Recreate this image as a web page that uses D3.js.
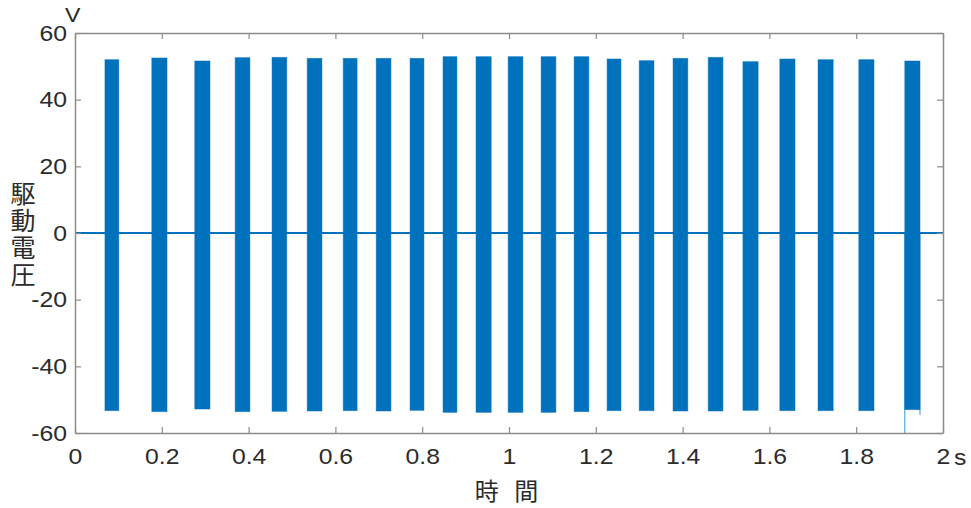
<!DOCTYPE html>
<html>
<head>
<meta charset="utf-8">
<script src="https://cdn.jsdelivr.net/npm/d3@7"></script>
<style>
  html, body { margin: 0; padding: 0; background: #fff; }
  svg { display: block; }
  .wide-c { transform-box: fill-box; transform-origin: center center; transform: scaleX(1.1); }
  .wide-r { transform-box: fill-box; transform-origin: right center; transform: scaleX(1.1); }
  .wide-l { transform-box: fill-box; transform-origin: left center; transform: scaleX(1.1); }
</style>
</head>
<body>
<svg id="chart" width="971" height="508"></svg>
<script>
// Drive-voltage bursts: start/end time (s) and envelope peaks (V) per burst
const burstStart = [0.069, 0.177, 0.276, 0.369, 0.454, 0.535, 0.618, 0.694, 0.772, 0.848, 0.924, 0.998,
                    1.074, 1.150, 1.226, 1.300, 1.378, 1.459, 1.539, 1.624, 1.712, 1.806, 1.912];
const burstEnd   = [0.101, 0.212, 0.311, 0.403, 0.488, 0.569, 0.650, 0.728, 0.804, 0.880, 0.959, 1.032,
                    1.108, 1.184, 1.258, 1.334, 1.412, 1.493, 1.574, 1.659, 1.747, 1.841, 1.947];
const burstMax   = [52.0, 52.5, 51.6, 52.6, 52.7, 52.4, 52.4, 52.4, 52.4, 52.9, 52.9, 52.9,
                    52.9, 52.9, 52.2, 51.7, 52.4, 52.7, 51.4, 52.2, 52.0, 52.0, 51.6];
const burstMin   = [-53.3, -53.6, -52.8, -53.6, -53.5, -53.4, -53.3, -53.4, -53.2, -53.8, -53.8, -53.8,
                    -53.8, -53.6, -53.3, -53.3, -53.4, -53.4, -53.2, -53.3, -53.3, -53.3, -53.0];

// Transient spikes at the edges of the final burst
const spikeTime  = [1.912, 1.947];
const spikeValue = [-60, -54.6];

// Baseline between bursts
const baseTime  = [0, 2];
const baseValue = [0, 0];

// Axis ticks
const xTicks = [0, 0.2, 0.4, 0.6, 0.8, 1, 1.2, 1.4, 1.6, 1.8, 2];
const xTickLabels = ["0", "0.2", "0.4", "0.6", "0.8", "1", "1.2", "1.4", "1.6", "1.8", "2"];
const yTicks = [-60, -40, -20, 0, 20, 40, 60];
const yTickLabels = ["-60", "-40", "-20", "0", "20", "40", "60"];

const xUnit = "s";
const yUnit = "V";
const xTitle = "時 間";
const yTitle = "駆動電圧";

const svg = d3.select("#chart");
const plotLeft = 75, plotRight = 943, plotTop = 33, plotBottom = 433;
const blue = "#0072BD";
const axisGrey = "#8c8c8c";
const textColor = "#2b2b2b";
const numFont = "'Liberation Sans', Arial, sans-serif";
const cjkFont = "'Noto Sans CJK JP', 'Noto Sans CJK SC', sans-serif";

const x = d3.scaleLinear().domain([0, 2]).range([plotLeft, plotRight]);
const y = d3.scaleLinear().domain([-60, 60]).range([plotBottom, plotTop]);

// Baseline
const line = d3.line().x(d => x(d[0])).y(d => y(d[1]));
svg.append("path")
  .datum(baseTime.map((t, i) => [t, baseValue[i]]))
  .attr("d", line)
  .attr("fill", "none")
  .attr("stroke", blue)
  .attr("stroke-width", 2.2);

// Bursts (dense oscillation rendered as its envelope)
const bursts = burstStart.map((s, i) => ({ s, e: burstEnd[i], hi: burstMax[i], lo: burstMin[i] }));
svg.append("g").selectAll("rect")
  .data(bursts)
  .join("rect")
  .attr("x", d => x(d.s))
  .attr("width", d => x(d.e) - x(d.s))
  .attr("y", d => y(d.hi))
  .attr("height", d => y(d.lo) - y(d.hi))
  .attr("fill", blue)
  .attr("stroke", blue)
  .attr("stroke-width", 0.8)
  .attr("stroke-opacity", 0.6);

// Spikes
svg.append("g").selectAll("line")
  .data(spikeTime.map((t, i) => ({ t, v: spikeValue[i] })))
  .join("line")
  .attr("x1", d => x(d.t)).attr("x2", d => x(d.t))
  .attr("y1", y(0)).attr("y2", d => y(d.v))
  .attr("stroke", blue)
  .attr("stroke-width", 1)
  .attr("stroke-opacity", 0.75);

// Axes box with inward ticks
const tickLen = 6;
const xBottom = d3.axisBottom(x).tickValues(xTicks).tickSizeInner(-tickLen).tickSizeOuter(0)
  .tickFormat((d, i) => xTickLabels[i]).tickPadding(15);
const xTop = d3.axisTop(x).tickValues(xTicks).tickSizeInner(-tickLen).tickSizeOuter(0).tickFormat("");
const yLeft = d3.axisLeft(y).tickValues(yTicks).tickSizeInner(-tickLen).tickSizeOuter(0)
  .tickFormat((d, i) => yTickLabels[i]).tickPadding(8);
const yRight = d3.axisRight(y).tickValues(yTicks).tickSizeInner(-tickLen).tickSizeOuter(0).tickFormat("");

function style(g) {
  g.select(".domain").attr("stroke", axisGrey).attr("stroke-width", 1.5);
  g.selectAll(".tick line").attr("stroke", axisGrey).attr("stroke-width", 1.2);
  g.selectAll(".tick text").attr("fill", textColor).style("font-family", numFont).style("font-size", "22.5px");
}
svg.append("g").attr("transform", `translate(0,${plotBottom})`).call(xBottom).call(style)
  .selectAll(".tick text").attr("class", "wide-c");
svg.append("g").attr("transform", `translate(0,${plotTop})`).call(xTop).call(style);
svg.append("g").attr("transform", `translate(${plotLeft},0)`).call(yLeft).call(style)
  .selectAll(".tick text").attr("class", "wide-r");
svg.append("g").attr("transform", `translate(${plotRight},0)`).call(yRight).call(style);

// Units
svg.append("text").text(xUnit)
  .attr("class", "wide-l")
  .attr("x", 954).attr("y", 465)
  .attr("fill", textColor).style("font-family", numFont).style("font-size", "22.5px");
svg.append("text").text(yUnit)
  .attr("class", "wide-l")
  .attr("x", 65).attr("y", 22)
  .attr("fill", textColor).style("font-family", numFont).style("font-size", "21px");

// Axis titles
svg.append("text").text(xTitle)
  .attr("x", 509).attr("y", 500)
  .attr("text-anchor", "middle")
  .attr("fill", textColor)
  .style("font-family", cjkFont).style("font-size", "24px").style("letter-spacing", "5px");

svg.append("text").text(yTitle)
  .attr("x", 23).attr("y", 181)
  .attr("fill", textColor)
  .style("writing-mode", "vertical-rl")
  .style("text-orientation", "upright")
  .style("letter-spacing", "2px")
  .style("font-family", cjkFont).style("font-size", "25px");
</script>
</body>
</html>
